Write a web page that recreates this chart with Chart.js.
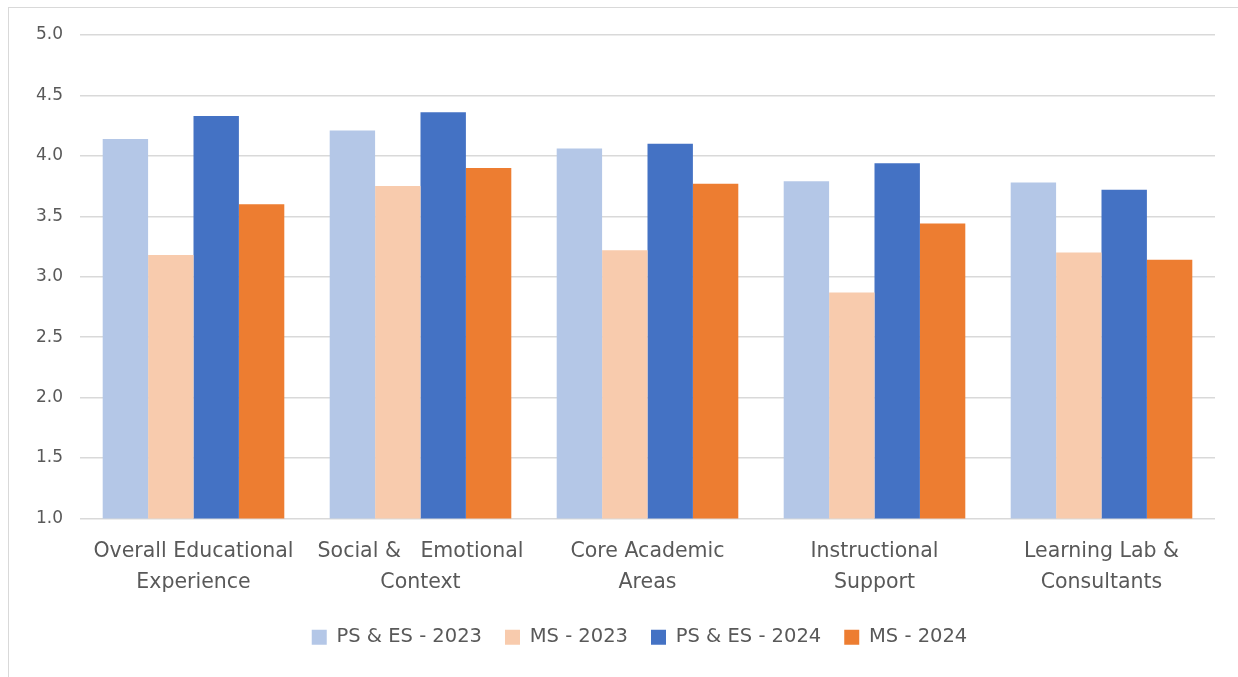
<!DOCTYPE html>
<html>
<head>
<meta charset="utf-8">
<script src="https://cdn.jsdelivr.net/npm/chart.js@4/dist/chart.umd.min.js"></script>
<style>
	html, body { margin: 0; padding: 0; background: #fff; }
	#wrap { position: absolute; left: 0; top: 0; width: 1238px; height: 677px; }
	#frame { position: absolute; left: 8px; top: 7px; width: 1240px; height: 680px; border: 1px solid #d9d9d9; box-sizing: border-box; }
	canvas { position: absolute; left: 0; top: 0; }
</style>
</head>
<body>
<div id="wrap">
	<div id="frame"></div>
	<canvas id="chart" width="1238" height="677"></canvas>
</div>
<script>
var categories = [
	['Overall Educational', 'Experience'],
	['Social &   Emotional', 'Context'],
	['Core Academic', 'Areas'],
	['Instructional', 'Support'],
	['Learning Lab &', 'Consultants']
];
var seriesNames = ['PS & ES - 2023', 'MS - 2023', 'PS & ES - 2024', 'MS - 2024'];
var psEs2023 = [4.14, 4.21, 4.06, 3.79, 3.78];
var ms2023 = [3.18, 3.75, 3.22, 2.87, 3.20];
var psEs2024 = [4.33, 4.36, 4.10, 3.94, 3.72];
var ms2024 = [3.60, 3.90, 3.77, 3.44, 3.14];
var seriesColors = ['#b4c7e7', '#f8cbad', '#4472c4', '#ed7d31'];
var yMin = 1.0, yMax = 5.0, yStep = 0.5;

//move the legend so it sits under the middle of the plot
var legendShift = {
	id: 'legendShift',
	afterUpdate: function(chart) {
		chart.legend.left += 32;
		chart.legend.right += 32;
	}
};

function mainFunc() {
	var values = [psEs2023, ms2023, psEs2024, ms2024];
	var datasets = [];
	for (var i = 0; i < values.length; i++) {
		datasets.push({
			label: seriesNames[i],
			data: values[i],
			backgroundColor: seriesColors[i],
			borderWidth: 0,
			categoryPercentage: 0.8,
			barPercentage: 1.0
		});
	}

	var font = "'DejaVu Sans', sans-serif";
	var ctx = document.getElementById('chart');
	var chart = new Chart(ctx, {
		type: 'bar',
		data: { labels: categories, datasets: datasets },
		plugins: [legendShift],
		options: {
			responsive: false,
			animation: false,
			layout: { padding: { top: 35, right: 23, left: 0, bottom: 20 } },
			plugins: {
				tooltip: { enabled: false },
				legend: {
					position: 'bottom',
					labels: {
						boxWidth: 15,
						boxHeight: 15,
						padding: 23,
						color: '#595959',
						font: { family: font, size: 19.5 }
					}
				}
			},
			scales: {
				x: {
					grid: { display: false, drawTicks: false },
					border: { display: false },
					ticks: {
						color: '#595959',
						padding: 17,
						maxRotation: 0,
						autoSkip: false,
						font: { family: font, size: 20.5, lineHeight: 1.55 }
					},
					afterFit: function(s) { s.height = 86; }
				},
				y: {
					min: yMin,
					max: yMax,
					grid: { color: '#d9d9d9', lineWidth: 1.5, drawTicks: false },
					border: { display: false },
					ticks: {
						stepSize: yStep,
						padding: 17,
						color: '#595959',
						font: { family: font, size: 17 },
						callback: function(v) { return v.toFixed(1); }
					},
					afterFit: function(s) { s.width = 80; }
				}
			}
		}
	});
}

window.onload = mainFunc;
</script>
</body>
</html>
